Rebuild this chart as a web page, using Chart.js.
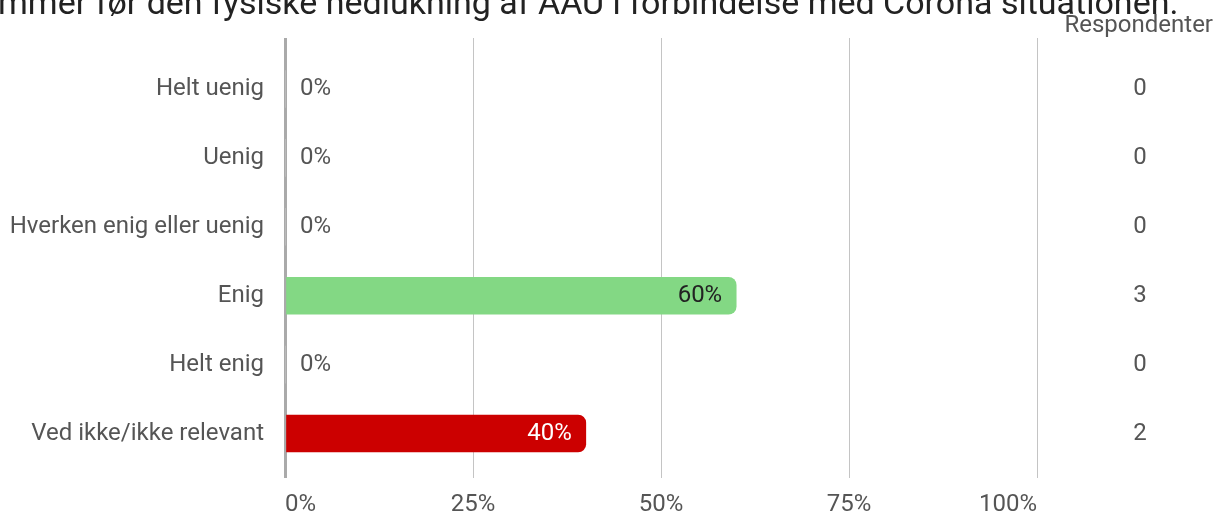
<!DOCTYPE html>
<html>
<head>
<meta charset="utf-8">
<script src="https://cdn.jsdelivr.net/npm/chart.js@4"></script>
<style>
  html, body { margin: 0; padding: 0; background: #fff; }
  #wrap { width: 1217px; height: 518px; position: relative; }
</style>
</head>
<body>
<div id="wrap"><canvas id="chart"></canvas></div>
<script>
const titleText = "mmer før den fysiske nedlukning af AAU i forbindelse med Corona situationen.";
const categories = ["Helt uenig", "Uenig", "Hverken enig eller uenig", "Enig", "Helt enig", "Ved ikke/ikke relevant"];
const percents = [0, 0, 0, 60, 0, 40];
const respondents = [0, 0, 0, 3, 0, 2];
const xTicks = [0, 25, 50, 75, 100];

const barColors = ["#d9d9d9", "#d9d9d9", "#d9d9d9", "#83d884", "#d9d9d9", "#cc0000"];
const labelColors = ["#555", "#555", "#555", "#222", "#555", "#fff"];
const FONT = "Roboto";

// title (cut off at top), value labels and the respondent column
const extras = {
  id: "extras",
  afterDatasetsDraw(chart) {
    const { ctx, scales: { x, y } } = chart;
    ctx.save();
    ctx.font = "34px " + FONT;
    ctx.fillStyle = "#222";
    ctx.textAlign = "left";
    ctx.textBaseline = "alphabetic";
    ctx.fillText(titleText, -2, 14);

    ctx.font = "24px " + FONT;
    ctx.fillStyle = "#555";
    ctx.textAlign = "right";
    ctx.textBaseline = "middle";
    ctx.fillText("Respondenter", 1213, 26);

    categories.forEach((c, i) => {
      const yy = y.getPixelForValue(i);
      const v = percents[i];
      if (v > 0) {
        ctx.textAlign = "right";
        ctx.fillStyle = labelColors[i];
        ctx.fillText(v + "%", x.getPixelForValue(v) - 14, yy);
      } else {
        ctx.textAlign = "left";
        ctx.fillStyle = "#555";
        ctx.fillText(v + "%", x.getPixelForValue(0) + 15, yy);
      }
      ctx.textAlign = "center";
      ctx.fillStyle = "#555";
      ctx.fillText(String(respondents[i]), 1140, yy);
    });
    ctx.restore();
  }
};

new Chart(document.getElementById("chart"), {
  type: "bar",
  data: {
    labels: categories,
    datasets: [{
      data: percents,
      backgroundColor: barColors,
      barThickness: 37,
      borderRadius: 8,
      borderSkipped: "start"
    }]
  },
  options: {
    indexAxis: "y",
    responsive: true,
    maintainAspectRatio: false,
    animation: false,
    layout: { padding: { top: 38, bottom: 0, right: 180, left: 0 } },
    plugins: { legend: { display: false }, tooltip: { enabled: false } },
    scales: {
      x: {
        position: "bottom",
        min: 0,
        max: 100,
        afterBuildTicks: (s) => { s.ticks = xTicks.map(v => ({ value: v })); },
        afterFit: (s) => { s.height = 50; },
        border: { display: false },
        grid: {
          color: (c) => c.index === 0 ? "#aaa" : "#c4c4c4",
          lineWidth: (c) => c.index === 0 ? 3 : 1,
          tickLength: 10
        },
        ticks: {
          align: "inner",
          padding: 13,
          color: "#555",
          font: { family: FONT, size: 24 },
          callback: (v) => v + "%"
        }
      },
      x2: {
        position: "top",
        axis: "x",
        min: 0,
        max: 100,
        afterBuildTicks: (s) => { s.ticks = xTicks.map(v => ({ value: v })); },
        afterFit: (s) => { s.height = 16.5; },
        border: { display: false },
        grid: {
          drawOnChartArea: false,
          color: (c) => c.index === 0 ? "#aaa" : "#c4c4c4",
          lineWidth: (c) => c.index === 0 ? 3 : 1,
          tickLength: 16.5
        },
        ticks: { display: false }
      },
      y: {
        afterFit: (s) => { s.width = 285; },
        border: { display: false },
        grid: { display: false },
        ticks: {
          padding: 13,
          color: "#555",
          font: { family: FONT, size: 24 }
        }
      }
    }
  },
  plugins: [extras]
});
</script>
</body>
</html>
